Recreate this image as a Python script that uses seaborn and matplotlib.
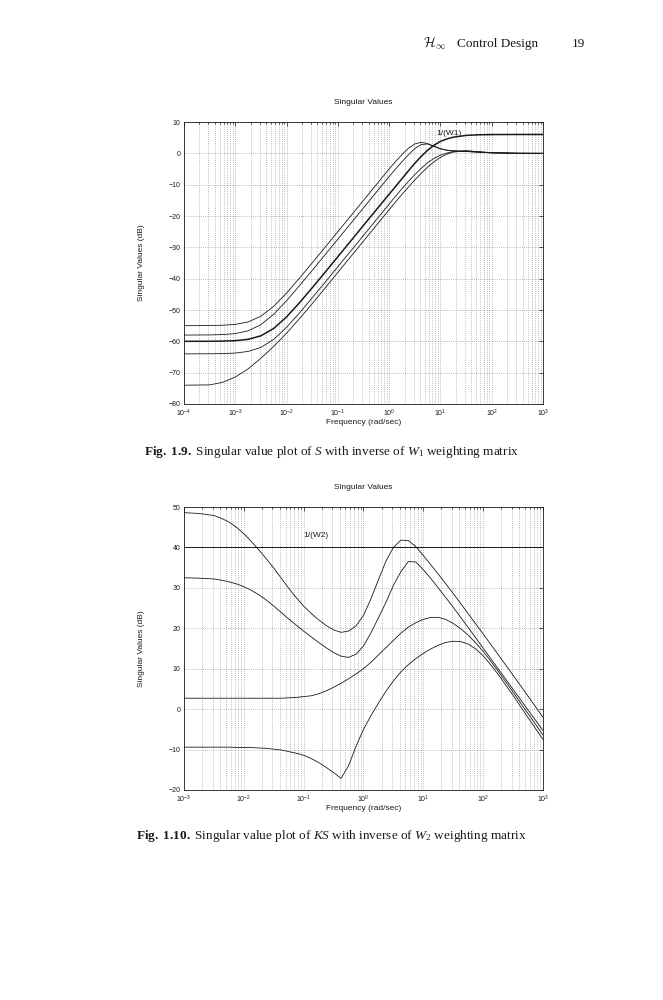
import numpy as np
import pandas as pd
import matplotlib
matplotlib.use("Agg")
import matplotlib.pyplot as plt
import seaborn as sns
from matplotlib.ticker import LogLocator, NullFormatter

# ---------------- data ----------------
# Fig 1.9 : singular values of S and 1/W1 (dB) vs log10(frequency)
top_logw = [-4, -3.5, -3.25, -3, -2.75, -2.5, -2.25, -2, -1.75, -1.5, -1.25, -1,
            -0.75, -0.5, -0.25, 0, 0.125, 0.25, 0.375, 0.5, 0.625, 0.75, 0.875,
            1, 1.125, 1.25, 1.5, 1.75, 2, 2.5, 3]
s_sv_a = [-55.0, -54.96, -54.86, -54.59, -53.81, -51.99, -48.81, -44.59, -39.86, -34.96,
          -30.0, -25.0, -20.0, -15.0, -10.0, -5.0, -2.6, -0.4, 1.6, 3.0, 3.5, 3.1, 2.2,
          1.4, 1.0, 0.8, 0.6, 0.35, 0.15, 0.02, 0.0]
s_sv_b = [-58.0, -57.95, -57.84, -57.53, -56.65, -54.68, -51.34, -47.04, -42.28, -37.36,
          -32.39, -27.4, -22.4, -17.4, -12.4, -7.4, -5.0, -2.7, -0.5, 1.5, 2.8, 3.0, 2.3,
          1.5, 1.0, 0.8, 0.6, 0.35, 0.15, 0.02, 0.0]
s_sv_d = [-64.0, -63.97, -63.92, -63.74, -63.23, -61.95, -59.37, -55.53, -50.98, -46.13,
          -41.18, -36.19, -31.2, -26.2, -21.2, -16.2, -13.7, -11.3, -9.0, -6.8, -4.8, -3.0,
          -1.6, -0.6, 0.1, 0.6, 0.8, 0.5, 0.2, 0.03, 0.0]
s_sv_e = [-74.0, -73.9, -73.1, -71.4, -68.8, -65.4, -61.6, -57.4, -52.8, -48.0,
          -43.0, -38.0, -33.0, -28.0, -23.0, -18.0, -15.5, -13.1, -10.8, -8.5, -6.4, -4.4,
          -2.7, -1.3, -0.3, 0.4, 0.8, 0.5, 0.2, 0.03, 0.0]
w1_inv = [-60.0, -59.98, -59.93, -59.79, -59.36, -58.24, -55.88, -52.21, -47.73, -42.91,
          -37.97, -33.0, -28.0, -23.0, -18.02, -13.05, -10.6, -8.1, -5.6, -3.2, -1.0,
          1.0, 2.6, 3.8, 4.6, 5.15, 5.72, 5.92, 5.99, 6.02, 6.02]

# Fig 1.10 : singular values of KS and 1/W2 (dB) vs log10(frequency)
bot_logw = [-3, -2.75, -2.5, -2.375, -2.25, -2.125, -2, -1.875, -1.75, -1.625, -1.5,
            -1.375, -1.25, -1.125, -1, -0.875, -0.75, -0.625, -0.5, -0.375, -0.25,
            -0.125, 0, 0.125, 0.25, 0.375, 0.5, 0.625, 0.75, 0.875, 1, 1.125, 1.25,
            1.375, 1.5, 1.625, 1.75, 1.875, 2, 2.125, 2.25, 2.5, 2.75, 3]
ks_sv1 = [48.6, 48.4, 47.9, 47.2, 46.3, 45.0, 43.4, 41.5, 39.4, 37.2, 34.9,
          32.4, 29.9, 27.6, 25.5, 23.7, 22.1, 20.7, 19.6, 19.0, 19.3,
          20.6, 23.2, 27.3, 32.0, 36.6, 40.0, 41.8, 41.7, 40.2, 38.0, 35.7, 33.4,
          31.0, 28.6, 26.1, 23.6, 21.1, 18.6, 16.05, 13.5, 8.4, 3.2, -2.0]
ks_sv2 = [32.5, 32.4, 32.2, 31.9, 31.5, 31.0, 30.3, 29.4, 28.3, 27.0, 25.5,
          23.9, 22.3, 20.8, 19.3, 17.9, 16.5, 15.2, 14.0, 13.1, 12.8,
          13.6, 15.6, 18.9, 22.6, 26.4, 30.6, 34.0, 36.5, 36.4, 34.5, 32.3, 30.0,
          27.6, 25.2, 22.7, 20.2, 17.65, 15.1, 12.55, 10.0, 4.9, -0.2, -5.3]
ks_sv3 = [2.7, 2.7, 2.7, 2.7, 2.7, 2.7, 2.7, 2.7, 2.7, 2.7, 2.7,
          2.7, 2.8, 2.9, 3.1, 3.3, 3.8, 4.5, 5.4, 6.4, 7.5,
          8.7, 10.0, 11.6, 13.4, 15.2, 17.0, 18.8, 20.3, 21.4, 22.2, 22.7, 22.7,
          22.2, 21.2, 19.9, 18.3, 16.4, 14.3, 11.9, 9.4, 4.2, -1.1, -6.4]
ks_sv4 = [-9.4, -9.4, -9.4, -9.4, -9.4, -9.45, -9.5, -9.5, -9.6, -9.7, -9.9,
          -10.1, -10.5, -10.9, -11.4, -12.2, -13.2, -14.4, -15.7, -17.1, -14.0,
          -9.2, -5.0, -1.6, 1.5, 4.4, 7.0, 9.2, 11.0, 12.5, 13.8, 14.9, 15.8,
          16.5, 16.8, 16.7, 16.1, 14.9, 13.2, 11.0, 8.6, 3.4, -2.1, -7.5]
w2_inv_db = 40.0

top_yticks = [-80, -70, -60, -50, -40, -30, -20, -10, 0, 10]
bot_yticks = [-20, -10, 0, 10, 20, 30, 40, 50]

# ---------------- styling ----------------
sns.set_theme(style="white")
plt.rcParams["font.family"] = ["Liberation Sans", "DejaVu Sans"]
plt.rcParams["mathtext.fontset"] = "custom"
plt.rcParams["mathtext.rm"] = "Liberation Serif"
plt.rcParams["mathtext.it"] = "Liberation Serif:italic"
plt.rcParams["mathtext.bf"] = "Liberation Serif:bold"
plt.rcParams["axes.unicode_minus"] = True

fig = plt.figure(figsize=(6.63, 10), dpi=100)
fig.patch.set_facecolor("white")

ax1 = fig.add_axes([0.2775, 0.596, 0.5415, 0.282])
ax2 = fig.add_axes([0.2775, 0.210, 0.5415, 0.283])

GRID = dict(color="0.5", linestyle=(0, (1, 2)), linewidth=0.5)


def style_axes(ax, xlim, ylim, yticks):
    ax.set_xscale("log")
    ax.set_xlim(*xlim)
    ax.set_ylim(*ylim)
    ax.set_yticks(yticks)
    ax.xaxis.set_major_locator(LogLocator(base=10, numticks=20))
    ax.xaxis.set_minor_locator(LogLocator(base=10, subs=np.arange(2, 10), numticks=200))
    ax.xaxis.set_minor_formatter(NullFormatter())
    ax.tick_params(which="both", direction="in", top=True, right=True,
                   labelsize=5, pad=2.5, width=0.5, color="k", labelcolor="k")
    ax.tick_params(which="major", length=3)
    ax.tick_params(which="minor", length=1.5)
    ax.grid(True, which="major", axis="both", **GRID)
    ax.grid(True, which="minor", axis="x", **GRID)
    ax.set_axisbelow(True)
    for sp in ax.spines.values():
        sp.set_color("k")
        sp.set_linewidth(0.6)
    ax.set_facecolor("white")


def label_axes(ax):
    ax.set_title("Singular Values", fontsize=6, pad=13, color="k")
    ax.set_xlabel("Frequency (rad/sec)", fontsize=6, color="k")
    ax.set_ylabel("Singular Values (dB)", fontsize=6, color="k")
    ax.xaxis.set_label_coords(0.5, -0.065)
    ax.xaxis.label.set_va("center")
    ax.yaxis.set_label_coords(-0.118, 0.5)
    ax.yaxis.label.set_va("center")


# ---- top chart ----
top_w = 10.0 ** np.array(top_logw)
for vals in (s_sv_a, s_sv_b, s_sv_d, s_sv_e):
    sns.lineplot(x=top_w, y=vals, ax=ax1, color="k", linewidth=0.6, sort=False)
sns.lineplot(x=top_w, y=w1_inv, ax=ax1, color="k", linewidth=1.1, sort=False)
style_axes(ax1, (1e-4, 1e3), (-80, 10), top_yticks)
ax1.text(10 ** 0.926, 5.1, "1/(W1)", fontsize=6, ha="left", va="bottom", color="k")
label_axes(ax1)

# ---- bottom chart ----
bot_w = 10.0 ** np.array(bot_logw)
for vals in (ks_sv1, ks_sv2, ks_sv3, ks_sv4):
    sns.lineplot(x=bot_w, y=vals, ax=ax2, color="k", linewidth=0.6, sort=False)
sns.lineplot(x=bot_w, y=[w2_inv_db] * len(bot_w), ax=ax2, color="k", linewidth=0.7, sort=False)
style_axes(ax2, (1e-3, 1e3), (-20, 50), bot_yticks)
ax2.text(10 ** -1.0, 42.2, "1/(W2)", fontsize=6, ha="left", va="bottom", color="k")
label_axes(ax2)

# ---- page header ----
fig.text(0.638, 0.956, r"$\mathcal{H}_{\infty}$", fontsize=10, ha="left", va="center",
         math_fontfamily="cm", color="k")
fig.text(0.689, 0.956, "Control Design", fontsize=9.5, ha="left", va="center",
         family="Liberation Serif", color="k")
fig.text(0.863, 0.956, "19", fontsize=9.5, ha="left", va="center",
         family="Liberation Serif", color="k")

# ---- captions ----
fig.text(0.5, 0.548,
         r"$\mathbf{Fig.\ 1.9.}$ Singular value plot of $S$ with inverse of $W_1$ weighting matrix",
         fontsize=9.5, ha="center", va="center", family="Liberation Serif", color="k")
fig.text(0.5, 0.164,
         r"$\mathbf{Fig.\ 1.10.}$ Singular value plot of $KS$ with inverse of $W_2$ weighting matrix",
         fontsize=9.5, ha="center", va="center", family="Liberation Serif", color="k")

fig.savefig("out.png", dpi=100, facecolor="white")
